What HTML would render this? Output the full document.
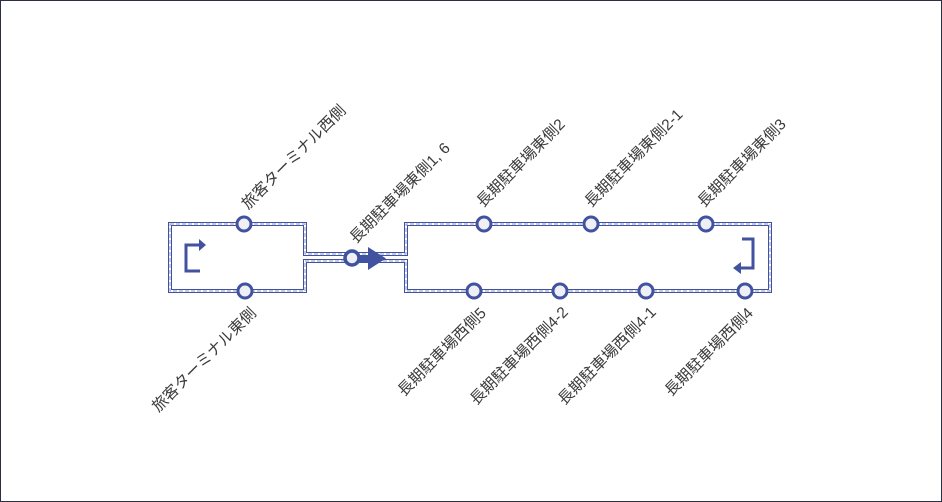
<!DOCTYPE html>
<html><head><meta charset="utf-8"><style>
html,body{margin:0;padding:0;background:#fff;}
svg{display:block;}
text{font-family:"Liberation Sans","Noto Sans CJK JP",sans-serif;font-size:15.5px;fill:#3a3a3a;}
</style></head><body>
<svg width="942" height="502" viewBox="0 0 942 502" xmlns="http://www.w3.org/2000/svg">
<rect x="0.5" y="0.5" width="941" height="501" fill="#fff" stroke="#2a2f45" stroke-width="1"/>
<g fill="none" stroke-linejoin="miter">
<path d="M170,224 H305 V254 H406 V224 H770 V291 H406 V261 H305 V291 H170 Z" stroke="#4052a0" stroke-width="4"/>
<path d="M170,224 H305 V254 H406 V224 H770 V291 H406 V261 H305 V291 H170 Z" stroke="#fff" stroke-width="2"/>
<path d="M170,224 H305 V254 H406 V224 H770 V291 H406 V261 H305 V291 H170 Z" stroke="#8a96c8" stroke-width="1" stroke-dasharray="4,2"/>
</g>
<path d="M199,245 H186 V271 H200" fill="none" stroke="#4052a0" stroke-width="3"/>
<polygon points="199,239 206,245 199,251" fill="#4052a0"/>
<path d="M742,239 H753 V268 H740" fill="none" stroke="#4052a0" stroke-width="3"/>
<polygon points="741,262 733,268 741,274" fill="#4052a0"/>
<rect x="352" y="255" width="17" height="7" fill="#4052a0"/>
<polygon points="368,247 386,258.5 368,270" fill="#4052a0"/>
<circle cx="352" cy="258" r="7" fill="#eef0f6" stroke="#4052a0" stroke-width="3.5"/>
<g fill="#eef0f6" stroke="#4052a0" stroke-width="3">
<circle cx="244" cy="224" r="7"/><circle cx="484" cy="224" r="7"/><circle cx="591" cy="224" r="7"/><circle cx="706" cy="224" r="7"/>
<circle cx="245" cy="291" r="7"/><circle cx="474" cy="291" r="7"/><circle cx="560" cy="291" r="7"/><circle cx="646" cy="291" r="7"/><circle cx="745" cy="291" r="7"/>
</g>
<text transform="translate(248,210) rotate(-45)">旅客ターミナル西側</text>
<text transform="translate(356,244) rotate(-45)">長期駐車場東側1, 6</text>
<text transform="translate(483,208) rotate(-45)">長期駐車場東側2</text>
<text transform="translate(591,208) rotate(-45)">長期駐車場東側2-1</text>
<text transform="translate(704,208) rotate(-45)">長期駐車場東側3</text>
<text text-anchor="end" transform="translate(257,314) rotate(-45)">旅客ターミナル東側</text>
<text text-anchor="end" transform="translate(487,314) rotate(-45)">長期駐車場西側5</text>
<text text-anchor="end" transform="translate(569,313) rotate(-45)">長期駐車場西側4-2</text>
<text text-anchor="end" transform="translate(657,313) rotate(-45)">長期駐車場西側4-1</text>
<text text-anchor="end" transform="translate(754,314) rotate(-45)">長期駐車場西側4</text>
</svg>
</body></html>
